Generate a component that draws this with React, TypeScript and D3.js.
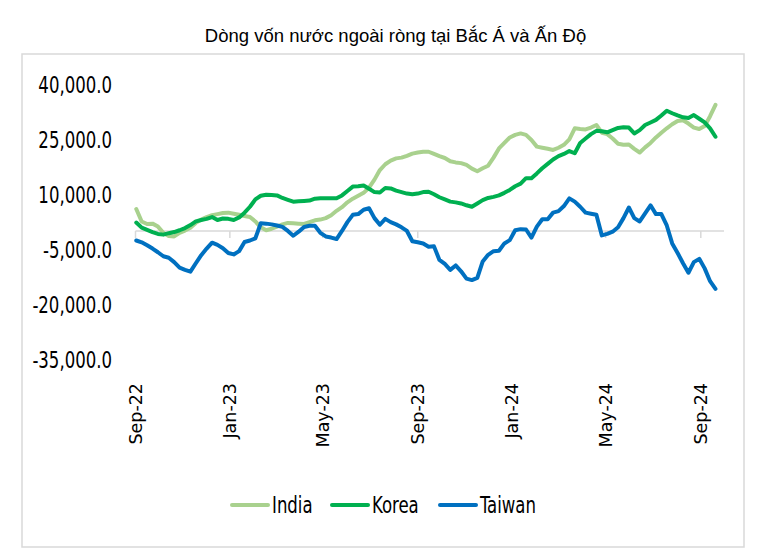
import React from "react";
import * as d3 from "d3";

const TITLE = "Dòng vốn nước ngoài ròng tại Bắc Á và Ấn Độ";
const SERIES_NAMES = ["India", "Korea", "Taiwan"];
const SERIES_COLORS = ["#a9d18e", "#00b050", "#0070c0"];
const Y_TICKS = [40000, 25000, 10000, -5000, -20000, -35000];
const X_TICK_LABELS = ["Sep-22", "Jan-23", "May-23", "Sep-23", "Jan-24", "May-24", "Sep-24"];
const X_TICK_DATES = ["2022-09-01", "2023-01-01", "2023-05-01", "2023-09-01", "2024-01-01", "2024-05-01", "2024-09-01"];
const FIRST_WEEK = "2022-09-02";

const india = [
  6000, 2600, 1900, 2000, 1200, -500, -1400, -1500, -500, 100,
  900, 2200, 3100, 3800, 4300, 4600, 4900, 5000, 4700, 4400,
  4100, 3800, 2600, 1000, 200, 600, 1200, 1800, 2200, 2100,
  2000, 1900, 2400, 2900, 3100, 3500, 4300, 5500, 6500, 7800,
  8800, 9600, 10400, 11800, 14000, 16600, 18200, 19200, 19800, 20000,
  20500, 21100, 21400, 21600, 21600, 21000, 20400, 19900, 19000, 18700,
  18500, 18000, 17000, 16300, 17100, 17800, 20000, 22500, 24000, 25500,
  26200, 26600, 26200, 24800, 23000, 22700, 22400, 22100, 22700, 23500,
  25000, 28000, 27800, 27700, 28200, 28900, 26800, 26400, 25200, 23800,
  23500, 23600, 22400, 21400, 22800, 24000, 25500, 26800, 28000, 29100,
  30000, 30200, 29300, 28200, 27800, 28600, 31300, 34400,
];

const korea = [
  2300, 900, 300, -300, -800, -1000, -600, -300, 200, 800,
  1600, 2600, 3000, 3300, 3800, 3000, 3400, 3300, 3000, 3700,
  5000, 6600, 8600, 9600, 9900, 9800, 9700, 9000, 8500, 8000,
  8100, 8200, 8300, 8800, 8900, 8900, 8900, 8900, 9700, 10900,
  12100, 12200, 12400, 11500, 10600, 10500, 11700, 11600, 11000, 10600,
  10200, 10000, 10200, 10600, 10700, 10000, 9200, 8600, 8000, 7800,
  7500, 7000, 6600, 7500, 8400, 9000, 9300, 9700, 10400, 11200,
  12200, 12900, 14400, 14400, 15700, 17100, 18300, 19500, 20400, 21000,
  21800, 21200, 24000, 25200, 26400, 27300, 27200, 26900, 27500, 28100,
  28300, 28200, 26600, 27500, 28900, 29600, 30300, 31500, 32800, 32100,
  31500, 31000, 30800, 31600, 30600, 29600, 28000, 25700,
];

const taiwan = [
  -2600, -3100, -3900, -4800, -5800, -6900, -7300, -8500, -10000, -10600,
  -11100, -8800, -6600, -4800, -3200, -3800, -4700, -6000, -6400, -5500,
  -3000, -2600, -2000, 2100, 2000, 1800, 1500, 1100, 0, -1300,
  -200, 1100, 1400, 1400, -500, -1500, -1800, -2200, 0, 2400,
  4400, 4600, 5800, 6200, 3500, 1700, 3300, 2400, 1800, 1000,
  0, -2800, -3100, -3400, -4300, -4200, -7900, -9000, -10600, -9400,
  -11000, -13000, -13400, -12800, -8300, -6500, -5500, -5400, -3400, -2500,
  200, 500, 400, -1800, 1200, 3200, 3200, 5000, 5400, 6800,
  8900, 8000, 6600, 5000, 4700, 4400, -1200, -800, -200, 1000,
  3500, 6400, 3500, 2600, 4800, 7000, 4600, 4600, 1500, -3400,
  -6000, -8800, -11400, -8500, -7600, -10200, -13700, -15800,
];

const SERIES = [india, korea, taiwan];

const W = 771;
const H = 558;

export default function App() {
  const parse = d3.utcParse("%Y-%m-%d");
  const start = parse(FIRST_WEEK) as Date;
  const weeks = india.map((_, i) => d3.utcDay.offset(start, 7 * i));

  const x = d3
    .scaleUtc()
    .domain([parse("2022-09-01") as Date, parse("2024-10-01") as Date])
    .range([135.5, 724]);
  const y = d3.scaleLinear().domain([-35000, 40000]).range([359.3, 84.3]);

  const line = d3
    .line<number>()
    .x((_, i) => x(weeks[i]))
    .y((d) => y(d));

  const fmt = d3
    .formatLocale({ decimal: ".", thousands: ",", grouping: [3], currency: ["", ""], minus: "-" })
    .format(",.1f");
  const tickFont = "'DejaVu Sans Condensed', 'DejaVu Sans', sans-serif";

  const legendX = [232, 332, 440];

  return (
    <svg
      width={W}
      height={H}
      style={{ position: "absolute", left: 0, top: 0, background: "#fff" }}
    >
      <rect x={0} y={0} width={W} height={H} fill="#fff" />
      <text
        x={395.5}
        y={42}
        textAnchor="middle"
        fontFamily="'Liberation Sans', Arial, sans-serif"
        fontSize={18.5}
        fill="#000"
      >
        {TITLE}
      </text>
      <rect x={22} y={54} width={722} height={493} fill="#fff" stroke="#d9d9d9" strokeWidth={1.5} />

      {Y_TICKS.map((t) => (
        <g key={t} transform={`translate(112,${y(t)}) scale(0.8,1)`}>
          <text
            x={0}
            y={0}
            dy="0.36em"
            textAnchor="end"
            fontFamily={tickFont}
            fontSize={23}
            fill="#000"
          >
            {fmt(t)}
          </text>
        </g>
      ))}

      <line x1={x.range()[0]} x2={x.range()[1]} y1={y(0)} y2={y(0)} stroke="#d9d9d9" strokeWidth={1.5} />
      {X_TICK_DATES.map((d, i) => {
        const xx = x(parse(d) as Date);
        return (
          <g key={d}>
            <line x1={xx} x2={xx} y1={y(0)} y2={y(0) + 7} stroke="#d9d9d9" strokeWidth={1.5} />
            <text
              transform={`translate(${xx},383) rotate(-90)`}
              dy="0.35em"
              textAnchor="end"
              fontFamily="'DejaVu Sans', Verdana, sans-serif"
              fontSize={17.5}
              fill="#000"
            >
              {X_TICK_LABELS[i]}
            </text>
          </g>
        );
      })}

      {SERIES.map((s, k) => (
        <path
          key={SERIES_NAMES[k]}
          d={line(s) || ""}
          fill="none"
          stroke={SERIES_COLORS[k]}
          strokeWidth={4}
          strokeLinejoin="round"
          strokeLinecap="round"
        />
      ))}

      {SERIES_NAMES.map((n, k) => (
        <g key={n}>
          <line
            x1={legendX[k]}
            x2={legendX[k] + 36}
            y1={505}
            y2={505}
            stroke={SERIES_COLORS[k]}
            strokeWidth={4}
            strokeLinecap="round"
          />
          <g transform={`translate(${legendX[k] + 40},505) scale(0.8,1)`}>
            <text
              x={0}
              y={0}
              dy="0.36em"
              fontFamily={tickFont}
              fontSize={23}
              fill="#000"
            >
              {n}
            </text>
          </g>
        </g>
      ))}
    </svg>
  );
}
